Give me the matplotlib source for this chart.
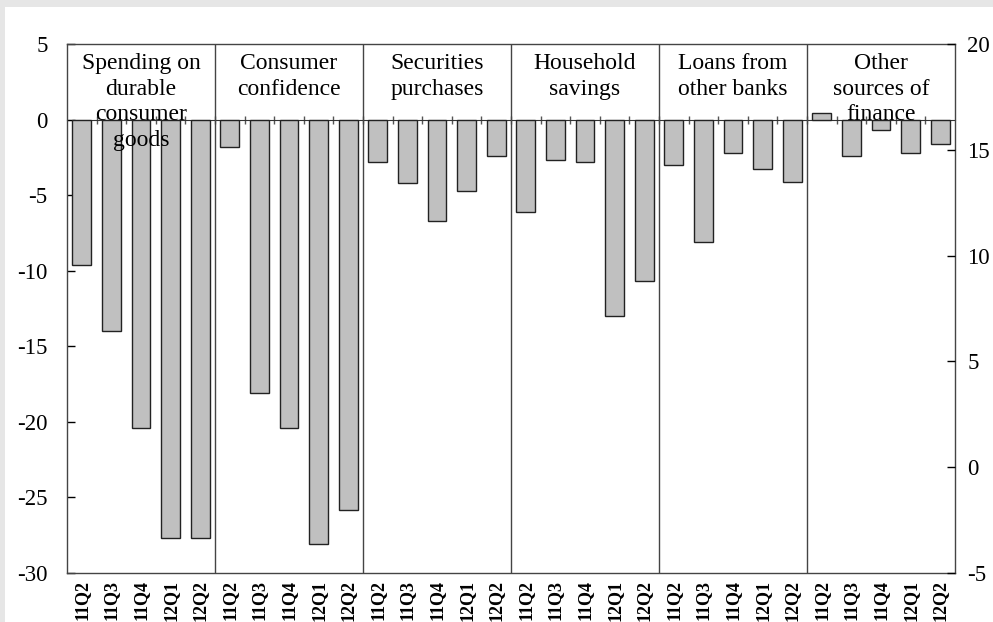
'''
Factors behind household demand for consumer credit, by quarter.
'''

import numpy as np
import matplotlib.pyplot as plt

# data (net percentages, left axis)
groups = ['Spending on\ndurable\nconsumer\ngoods', 'Consumer\nconfidence',
          'Securities\npurchases', 'Household\nsavings',
          'Loans from\nother banks', 'Other\nsources of\nfinance']
quarters = ['11Q2', '11Q3', '11Q4', '12Q1', '12Q2']

durable = [-9.6, -14.0, -20.4, -27.7, -27.7]
confidence = [-1.8, -18.1, -20.4, -28.1, -25.8]
securities = [-2.8, -4.2, -6.7, -4.7, -2.4]
savings = [-6.1, -2.7, -2.8, -13.0, -10.7]
bank_loans = [-3.0, -8.1, -2.2, -3.3, -4.1]
other_finance = [0.45, -2.4, -0.7, -2.2, -1.6]

values = durable + confidence + securities + savings + bank_loans + other_finance
labels = quarters * len(groups)
x = np.arange(len(values))

plt.rcParams['font.family'] = ['Liberation Serif', 'DejaVu Serif']

fig = plt.figure(figsize=(9.93, 6.22), dpi=100, facecolor='#e6e6e6')
# white panel under the chart
fig.patches.append(plt.Rectangle((5/993, 0), 1, 1 - 7/622, transform=fig.transFigure,
                                 facecolor='white', edgecolor='none', zorder=-5))

ax = fig.add_axes([67/993, 1 - 573/622, 888/993, 529/622])
ax.set_facecolor('white')

ax.bar(x, values, width=0.63, color='#c0c0c0', edgecolor='#222222', linewidth=1.0, zorder=2)

ax.set_xlim(-0.5, len(values) - 0.5)
ax.set_ylim(-30, 5)
ax.set_yticks(range(-30, 6, 5))
ax.set_yticklabels([str(v) for v in range(-30, 6, 5)], fontsize=16.5)
ax.tick_params(axis='y', direction='in', length=6, width=1, pad=14)

ax.set_xticks(x)
ax.set_xticklabels(labels, rotation=90, fontsize=13, fontweight='bold')
ax.tick_params(axis='x', length=0, pad=5)

for side in ['left', 'right', 'top', 'bottom']:
    ax.spines[side].set_color('#444444')
    ax.spines[side].set_linewidth(1.0)

# zero line with small ticks between bars
zero = ax.secondary_xaxis(30/35)
zero.set_xticks(np.arange(0.5, len(values) - 1, 1))
zero.set_xticklabels([])
zero.tick_params(direction='inout', length=6, width=1, color='#555555')
zero.spines['bottom'].set_color('#333333')
zero.spines['top'].set_color('#333333')

# separators and group titles
for i, name in enumerate(groups):
    if i > 0:
        ax.axvline(i * 5 - 0.5, color='#444444', linewidth=1.0, zorder=1)
    ax.text(i * 5 + 2, 4.4, name, ha='center', va='top', fontsize=17,
            linespacing=1.28, zorder=3)

# right axis
ax2 = ax.twinx()
ax2.set_ylim(-5, 20)
ax2.set_yticks(range(-5, 21, 5))
ax2.set_yticklabels([str(v) for v in range(-5, 21, 5)], fontsize=16.5)
ax2.tick_params(axis='y', direction='in', length=6, width=1, pad=9)
for side in ['left', 'right', 'top', 'bottom']:
    ax2.spines[side].set_visible(False)

plt.savefig('out.png', dpi=100, facecolor=fig.get_facecolor())
plt.close()
